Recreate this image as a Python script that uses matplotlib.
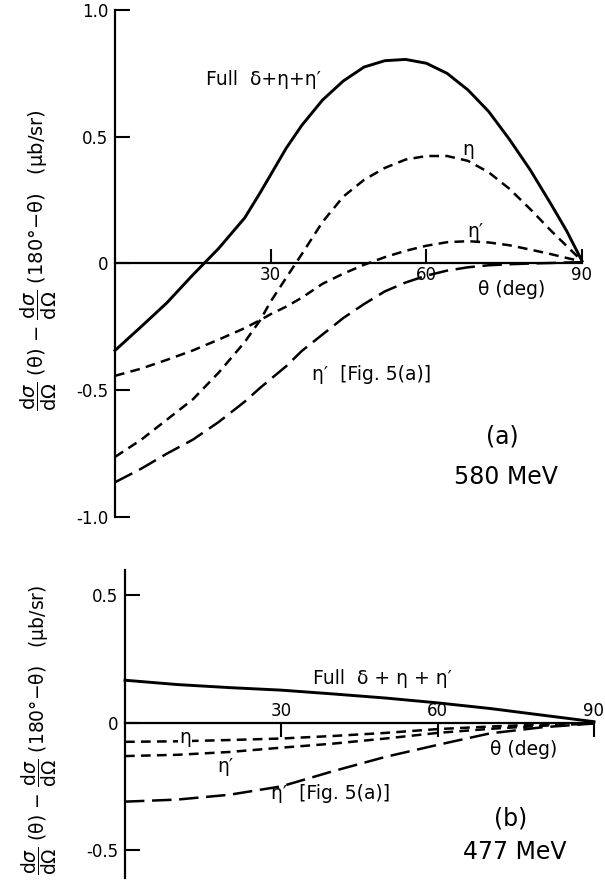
# -*- coding:utf-8 -*-
# Forward-backward asymmetry dσ/dΩ(θ) - dσ/dΩ(180°-θ), two beam energies

import matplotlib
matplotlib.use("Agg")
import matplotlib.pyplot as plt

plt.rcParams['font.family'] = ['DejaVu Sans']
plt.rcParams['lines.scale_dashes'] = False
plt.rcParams['mathtext.fontset'] = 'dejavusans'

# ---- panel (a): 580 MeV ----
theta_a = [0, 5, 10, 15, 20, 25, 28, 30, 33, 36, 40, 44, 48, 52, 56, 60,
           64, 68, 72, 76, 80, 84, 87, 90]
full_a = [-0.343, -0.25, -0.155, -0.045, 0.06, 0.18, 0.28, 0.35, 0.455, 0.545,
          0.645, 0.72, 0.775, 0.80, 0.805, 0.79, 0.75, 0.685, 0.60, 0.49,
          0.37, 0.235, 0.13, 0.01]
eta_a = [-0.763, -0.696, -0.616, -0.536, -0.43, -0.31, -0.223, -0.15, -0.056,
         0.037, 0.164, 0.264, 0.33, 0.377, 0.41, 0.424, 0.424, 0.405, 0.36,
         0.295, 0.215, 0.13, 0.07, 0.01]
etap_a = [-0.443, -0.415, -0.38, -0.343, -0.30, -0.255, -0.223, -0.20, -0.17,
          -0.135, -0.08, -0.04, -0.005, 0.025, 0.05, 0.07, 0.084, 0.088,
          0.083, 0.072, 0.055, 0.037, 0.022, 0.008]
etap5_a = [-0.863, -0.81, -0.75, -0.695, -0.625, -0.545, -0.49, -0.456, -0.405,
           -0.345, -0.28, -0.215, -0.16, -0.11, -0.075, -0.048, -0.028, -0.015,
           -0.007, -0.003, 0.0, 0.002, 0.004, 0.005]

# ---- panel (b): 477 MeV ----
theta_b = [0, 10, 20, 30, 40, 50, 60, 70, 80, 90]
full_b = [0.167, 0.15, 0.138, 0.128, 0.113, 0.097, 0.078, 0.056, 0.03, 0.004]
eta_b = [-0.075, -0.073, -0.068, -0.062, -0.052, -0.04, -0.025, -0.015,
         -0.007, -0.002]
etap_b = [-0.131, -0.126, -0.115, -0.098, -0.082, -0.062, -0.04, -0.024,
          -0.012, -0.003]
etap5_b = [-0.31, -0.302, -0.283, -0.25, -0.19, -0.134, -0.087, -0.042,
           -0.018, -0.003]

xticks = [30, 60, 90]
yticks_a = [-1.0, -0.5, 0, 0.5, 1.0]
yticklabels_a = ['-1.0', '-0.5', '0', '0.5', '1.0']
yticks_b = [-0.5, 0, 0.5]
yticklabels_b = ['-0.5', '0', '0.5']

short_dash = (7, 4.5)
long_dash = (14, 5.5)
ylab = (r'$\dfrac{\mathrm{d}\sigma}{\mathrm{d}\Omega}$ (θ) − '
        r'$\dfrac{\mathrm{d}\sigma}{\mathrm{d}\Omega}$ (180°−θ)   (μb/sr)')

fig = plt.figure(figsize=(6.05, 8.9), dpi=100)

# Draw the four curves of one panel
def draw_curves(ax, x, full, eta, etap, etap5):
    ax.plot(x, full, color='black', linewidth=2.1, clip_on=False)
    ax.plot(x, eta, color='black', linewidth=1.8, dashes=short_dash, clip_on=False)
    ax.plot(x, etap, color='black', linewidth=1.8, dashes=short_dash, clip_on=False)
    ax.plot(x, etap5, color='black', linewidth=1.8, dashes=long_dash, clip_on=False)

# Common axis styling: left spine plus a zero line carrying the theta ticks
def style_axes(ax, zero_spine, yticks, yticklabels):
    hidden = 'bottom' if zero_spine == 'top' else 'top'
    ax.spines[hidden].set_visible(False)
    ax.spines['right'].set_visible(False)
    ax.spines[zero_spine].set_position(('data', 0))
    for s in ax.spines.values():
        s.set_linewidth(1.6)
    ax.xaxis.set_ticks_position(zero_spine)
    ax.set_xticks(xticks)
    ax.set_xticklabels([str(t) for t in xticks])
    ax.set_yticks(yticks)
    ax.set_yticklabels(yticklabels)
    ax.tick_params(axis='x', direction='in', length=10, width=1.5, pad=2, labelsize=12)
    ax.tick_params(axis='y', direction='in', length=11, width=1.5, pad=5, labelsize=12)
    ax.patch.set_visible(False)

# Top panel
ax1 = fig.add_axes([115 / 605, 1 - 517 / 890, 467 / 605, 507 / 890])
draw_curves(ax1, theta_a, full_a, eta_a, etap_a, etap5_a)
ax1.set_xlim(0, 90)
ax1.set_ylim(-1.0, 1.0)
style_axes(ax1, 'bottom', yticks_a, yticklabels_a)

ax1.text(28.7, 0.724, 'Full  δ+η+η′', fontsize=13.5, ha='center', va='center')
ax1.text(68, 0.45, 'η', fontsize=13.5, ha='center', va='center')
ax1.text(69.5, 0.125, 'η′', fontsize=13.5, ha='center', va='center')
ax1.text(76.5, -0.103, 'θ (deg)', fontsize=13.5, ha='center', va='center')
ax1.text(49.5, -0.436, 'η′  [Fig. 5(a)]', fontsize=13.5, ha='center', va='center')
ax1.text(74.7, -0.683, '(a)', fontsize=17, ha='center', va='center')
ax1.text(75.4, -0.843, '580 MeV', fontsize=17, ha='center', va='center')

# Bottom panel
ax2 = fig.add_axes([125 / 605, 1 - 878 / 890, 469 / 605, 308 / 890])
draw_curves(ax2, theta_b, full_b, eta_b, etap_b, etap5_b)
ax2.set_xlim(0, 90)
ax2.set_ylim(-0.61, 0.6)
style_axes(ax2, 'top', yticks_b, yticklabels_b)

ax2.text(49.4, 0.174, 'Full  δ + η + η′', fontsize=13.5, ha='center', va='center')
ax2.text(11.5, -0.058, 'η', fontsize=13.5, ha='center', va='center',
         bbox=dict(facecolor='white', edgecolor='none', pad=0.5))
ax2.text(19.3, -0.173, 'η′', fontsize=13.5, ha='center', va='center')
ax2.text(39.4, -0.277, 'η′  [Fig. 5(a)]', fontsize=13.5, ha='center', va='center')
ax2.text(76.4, -0.107, 'θ (deg)', fontsize=13.5, ha='center', va='center')
ax2.text(74, -0.375, '(b)', fontsize=17, ha='center', va='center')
ax2.text(74.8, -0.506, '477 MeV', fontsize=17, ha='center', va='center')

# Rotated y labels
fig.text(0.064, 0.708, ylab, rotation=90, fontsize=14, ha='center', va='center')
fig.text(0.064, 0.180, ylab, rotation=90, fontsize=13.5, ha='center', va='center')

fig.savefig('out.png', dpi=100)
